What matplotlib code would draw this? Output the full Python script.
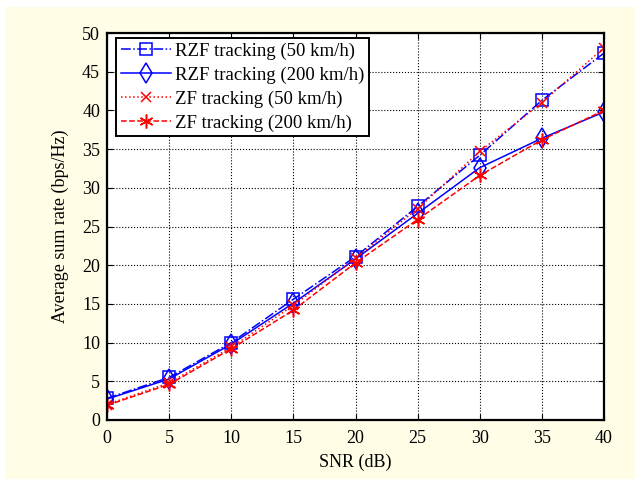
import matplotlib
matplotlib.use('Agg')
import matplotlib.pyplot as plt
from matplotlib.patches import Rectangle
import numpy as np

plt.rcParams['font.family'] = ['Liberation Serif', 'DejaVu Serif']

snr = [0, 5, 10, 15, 20, 25, 30, 35, 40]
rzf_50 = [2.8, 5.5, 10.0, 15.6, 21.1, 27.6, 34.2, 41.3, 47.4]
rzf_200 = [2.7, 5.3, 9.8, 15.1, 20.8, 26.7, 32.6, 36.4, 39.8]
zf_50 = [2.0, 4.8, 9.4, 14.8, 20.9, 27.3, 34.7, 41.0, 48.1]
zf_200 = [1.9, 4.6, 9.2, 14.2, 20.3, 25.9, 31.6, 36.2, 40.0]

fig = plt.figure(figsize=(6.35, 4.79), dpi=100, facecolor='white')
fig.patches.append(Rectangle((5 / 635, 0), 1, 1 - 7 / 479, transform=fig.transFigure,
                             facecolor='#fffde6', edgecolor='none', zorder=-1))

ax = fig.add_axes([107 / 635, 59 / 479, 497 / 635, 387 / 479])

# MATLAB-style asterisk marker
asterisk = (6, 2, 0)

ax.plot(snr, rzf_50, color='#0000ff', linestyle='-.', marker='s', markersize=8,
        markerfacecolor='none', markeredgewidth=1.1, linewidth=1.1, label='RZF tracking (50 km/h)')
ax.plot(snr, rzf_200, color='#0000ff', linestyle='-', marker='d', markersize=10,
        markerfacecolor='none', markeredgewidth=1.1, linewidth=1.1, label='RZF tracking (200 km/h)')
ax.plot(snr, zf_50, color='#ff0000', linestyle=':', marker='x', markersize=7,
        markeredgewidth=1.1, linewidth=1.1, label='ZF tracking (50 km/h)')
ax.plot(snr, zf_200, color='#ff0000', linestyle='--', marker=asterisk, markersize=10,
        markeredgewidth=1.1, linewidth=1.1, label='ZF tracking (200 km/h)')

ax.set_xlim(0, 40)
ax.set_ylim(0, 50)
ax.set_xticks(np.arange(0, 41, 5))
ax.set_yticks(np.arange(0, 51, 5))
ax.grid(True, color='black', linestyle=':', linewidth=0.8)
ax.tick_params(direction='in', labelsize=13, length=4, top=True, right=True)
ax.tick_params(axis='x', pad=7)
ax.tick_params(axis='y', pad=5)
for s in ax.spines.values():
    s.set_linewidth(1.6)

ax.set_xlabel('SNR (dB)', fontsize=13, labelpad=5)
ax.set_ylabel('Average sum rate (bps/Hz)', fontsize=13, labelpad=9)

leg = ax.legend(loc='upper left', bbox_to_anchor=(0.018, 0.987), fontsize=13.5,
                frameon=True, fancybox=False, handlelength=2.7, borderpad=0.25,
                labelspacing=0.35, handletextpad=0.2, borderaxespad=0)
leg.get_frame().set_edgecolor('black')
leg.get_frame().set_linewidth(1.4)
leg.get_frame().set_alpha(1)

fig.savefig('out.png', dpi=100, facecolor=fig.get_facecolor())
